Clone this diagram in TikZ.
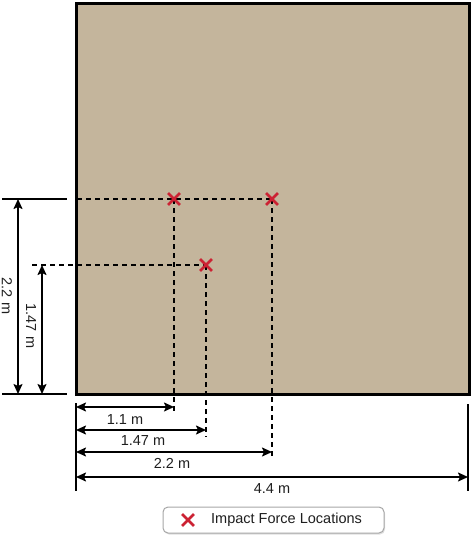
\documentclass[tikz,border=0pt]{standalone}
\usepackage{fontspec}
\setmainfont{Liberation Sans}
\usetikzlibrary{arrows.meta,shapes.misc,shadows}
\definecolor{slab}{RGB}{196,181,156}
\definecolor{impactred}{RGB}{204,34,51}
\definecolor{txt}{RGB}{30,30,30}
\tikzset{
  dimarrow/.style={line width=1.7pt,{Stealth[length=10pt,width=9pt,inset=2pt]}-{Stealth[length=10pt,width=9pt,inset=2pt]}},
  extline/.style={line width=1.5pt},
  guide/.style={line width=1.6pt,dash pattern=on 5pt off 4pt},
  impact/.style={cross out,draw=impactred,line width=2.8pt,minimum size=9pt,inner sep=0pt},
  dimlabel/.style={font=\fontsize{14.5}{17}\selectfont,text=txt,inner sep=0pt},
}
\begin{document}
\begin{tikzpicture}[x=1pt,y=-1pt]
\useasboundingbox (0,0) rectangle (474,536);
% slab
\draw[fill=slab,line width=3pt] (76,3) rectangle (469,394);
% guide lines (behind crosses)
\coordinate (hA) at (77,199);
\coordinate (hB) at (32,265);
\coordinate (v1) at (174,413);
\coordinate (v2) at (206,437);
\coordinate (v3) at (272,457);
\draw[guide] (hA) -- (272,199);
\draw[guide] (hB) -- (206,265);
\draw[guide] (174,199) -- (v1);
\draw[guide] (206,265) -- (v2);
\draw[guide] (272,199) -- (v3);
% impact crosses
\node[impact] (c1) at (174,199) {};
\node[impact] (c2) at (272,199) {};
\node[impact] (c3) at (206,265) {};
% vertical dimensions
\coordinate (t1) at (2,199);
\coordinate (t2) at (67,199);
\coordinate (b1) at (2,394);
\coordinate (b2) at (67,394);
\draw[extline] (t1) -- (t2);
\draw[extline] (b1) -- (b2);
\coordinate (a22t) at (18,199);
\coordinate (a22b) at (18,394);
\draw[dimarrow] (a22t) -- (a22b);
\coordinate (a147t) at (42,265);
\coordinate (a147b) at (42,394);
\draw[dimarrow] (a147t) -- (a147b);
\node[dimlabel,rotate=-90] (lv22) at (7,296) {2.2 m};
\node[dimlabel,rotate=-90] (lv147) at (31,326) {1.47 m};
% horizontal dimensions
\coordinate (el1) at (76,403);
\coordinate (el2) at (76,491);
\coordinate (er1) at (468,404);
\coordinate (er2) at (468,491);
\draw[extline] (el1) -- (el2);
\draw[extline] (er1) -- (er2);
\coordinate (h11a) at (76,407);  \coordinate (h11b) at (174,407);
\coordinate (h147a) at (76,430); \coordinate (h147b) at (206,430);
\coordinate (h22a) at (76,452);  \coordinate (h22b) at (272,452);
\coordinate (h44a) at (76,477);  \coordinate (h44b) at (468,477);
\draw[dimarrow] (h11a) -- (h11b);
\draw[dimarrow] (h147a) -- (h147b);
\draw[dimarrow] (h22a) -- (h22b);
\draw[dimarrow] (h44a) -- (h44b);
\node[dimlabel] (lh11) at (125,420) {1.1 m};
\node[dimlabel] (lh147) at (143,441) {1.47 m};
\node[dimlabel] (lh22) at (172,463) {2.2 m};
\node[dimlabel] (lh44) at (272,489) {4.4 m};
% legend
\node[draw=gray!70,line width=1pt,rounded corners=5pt,fill=white,
      drop shadow={opacity=0.25,shadow xshift=1pt,shadow yshift=-1.5pt},
      minimum width=221pt,minimum height=26pt] (legend) at (273.5,520) {};
\node[impact] (lgx) at (188,520) {};
\node[dimlabel,anchor=west] (lgt) at (211,520) {Impact Force Locations};
\end{tikzpicture}
\end{document}
